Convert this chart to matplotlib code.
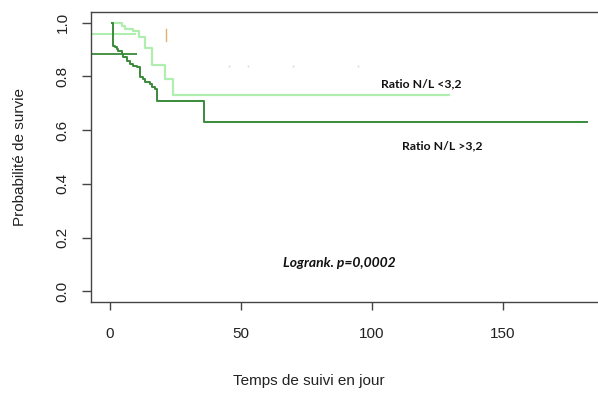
import matplotlib
matplotlib.use("Agg")
import matplotlib.pyplot as plt

# ---- data ----
dark_start = 0.9
dark_times = [1.0, 1.3, 1.9, 2.5, 3.2, 4.5, 5.1, 6.4, 7.6, 8.9, 10.2, 11.5,
              12.7, 13.4, 15.3, 15.9, 17.2, 17.8, 36.0]
dark_surv = [0.920, 0.914, 0.908, 0.902, 0.896, 0.884, 0.871, 0.859, 0.846,
             0.840, 0.834, 0.797, 0.790, 0.778, 0.772, 0.760, 0.754, 0.710, 0.629]
dark_end = 182.0

light_start = 0.9
light_times = [4.5, 5.7, 8.9, 11.2, 13.4, 16.1, 21.0, 24.2]
light_surv = [0.988, 0.976, 0.970, 0.948, 0.907, 0.844, 0.790, 0.731]
light_end = 129.4

x_ticks = [0, 50, 100, 150]
y_ticks = [0.0, 0.2, 0.4, 0.6, 0.8, 1.0]
y_tick_labels = ["0.0", "0.2", "0.4", "0.6", "0.8", "1.0"]

label_low = "Ratio N/L <3,2"
label_high = "Ratio N/L >3,2"
logrank_text = "Logrank. p=0,0002"
xlabel = "Temps de suivi en jour"
ylabel = "Probabilité de survie"

# ---- figure ----
W, H = 598, 397
fig = plt.figure(figsize=(W / 100, H / 100), dpi=100)
fig.patch.set_facecolor("white")

left_px, top_px, bottom_px = 91, 12, 302
x_lo, x_hi = -7.25, 190.0
px_per_unit = 2.62
right_px = left_px + (x_hi - x_lo) * px_per_unit
ax = fig.add_axes([left_px / W, 1 - bottom_px / H,
                   (right_px - left_px) / W, (bottom_px - top_px) / H])
ax.set_xlim(x_lo, x_hi)
ax.set_ylim(-0.04, 1.04)

dark_col = "#3a8a3a"
light_col = "#b0eeb0"

# artifact horizontal lines near the left
ax.plot([x_lo, 10.4], [0.884, 0.884], color=dark_col, lw=1.3, solid_capstyle="butt")
ax.plot([x_lo, 10.0], [0.958, 0.958], color=light_col, lw=1.5, solid_capstyle="butt")

# survival curves
lx = [light_start] + light_times + [light_end]
ly = [1.0] + light_surv + [light_surv[-1]]
ax.step(lx, ly, where="post", color=light_col, lw=1.6)

dx = [dark_start] + dark_times + [dark_end]
dy = [1.0] + dark_surv + [dark_surv[-1]]
ax.step(dx, dy, where="post", color=dark_col, lw=1.4)

# small marks
ax.plot([21.4, 21.4], [0.933, 0.978], color="#e4b070", lw=1.0)
ax.plot([45.4, 52.7, 69.8, 94.7], [0.84, 0.84, 0.84, 0.84], ls="none",
        marker="s", ms=1.2, color="#d8d8d8", mec="none")

# spines & ticks
for s in ["left", "bottom", "top"]:
    ax.spines[s].set_color("#444444")
    ax.spines[s].set_linewidth(1.0)
ax.spines["right"].set_visible(False)

ax.set_xticks(x_ticks)
ax.set_xticklabels([str(v) for v in x_ticks])
ax.set_yticks(y_ticks)
ax.set_yticklabels(y_tick_labels, rotation=90, va="center")
ax.tick_params(axis="x", length=6, width=1.0, color="#444444", pad=12,
               labelsize=11, labelcolor="#222222")
ax.tick_params(axis="y", length=6.5, width=1.0, color="#444444", pad=9,
               labelsize=11, labelcolor="#222222")
for lab in ax.get_xticklabels() + ax.get_yticklabels():
    lab.set_fontfamily("Liberation Sans")

# annotations
ax.text(118.7, 0.773, label_low, ha="center", va="center",
        fontfamily="Lato", fontweight="bold", fontsize=8.8, color="#111111")
ax.text(126.7, 0.543, label_high, ha="center", va="center",
        fontfamily="Lato", fontweight="bold", fontsize=8.8, color="#111111")
ax.text(87.4, 0.104, logrank_text, ha="center", va="center",
        fontfamily="Lato", fontweight="bold", fontstyle="italic",
        fontsize=10, color="#111111")

fig.text(20 / W, 1 - 157 / H, ylabel, rotation=90, ha="center", va="center",
         fontfamily="Liberation Sans", fontsize=11, color="#222222")
fig.text(309 / W, 1 - 381 / H, xlabel, ha="center", va="center",
         fontfamily="Liberation Sans", fontsize=11, color="#222222")

fig.savefig("out.png", dpi=100, facecolor="white")
